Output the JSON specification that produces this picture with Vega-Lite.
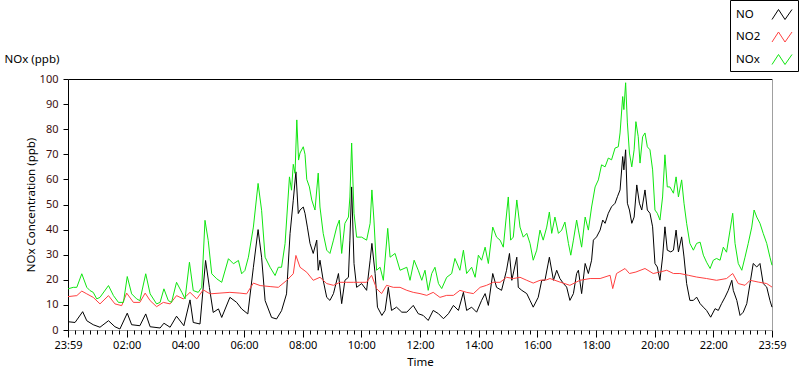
{
  "$schema": "https://vega.github.io/schema/vega-lite/v6.json",
  "width": 704,
  "height": 251,
  "autosize": {"type": "none"},
  "padding": {"left": 68, "top": 79, "right": 28, "bottom": 39},
  "background": "white",
  "config": {
    "view": {"stroke": null},
    "font": "Noto Sans",
    "axis": {"grid": false, "labelFont": "Noto Sans", "titleFont": "Noto Sans", "titleFontWeight": "normal"},
    "legend": {"labelFont": "Noto Sans"}
  },
  "datasets": {
    "no": [
      {"t":0,"v":3.3},{"t":0.24,"v":3},{"t":0.5,"v":7.3},{"t":0.64,"v":3.7},{"t":0.86,"v":2.1},{"t":1.09,"v":1.1},{"t":1.38,"v":3.7},{"t":1.6,"v":1.3},{"t":1.77,"v":0.4},{"t":2.02,"v":6.7},{"t":2.17,"v":2.1},{"t":2.45,"v":1.7},{"t":2.65,"v":6.4},{"t":2.8,"v":1.3},{"t":3.14,"v":0.8},{"t":3.27,"v":2.7},{"t":3.48,"v":1.1},{"t":3.7,"v":5.5},{"t":3.95,"v":1.7},{"t":4.16,"v":12},{"t":4.27,"v":3},{"t":4.5,"v":2.4},{"t":4.69,"v":27.7},{"t":4.82,"v":17},{"t":4.95,"v":7},{"t":5.13,"v":8.4},{"t":5.24,"v":5},{"t":5.52,"v":13},{"t":5.75,"v":11},{"t":5.92,"v":8.4},{"t":6.13,"v":6.4},{"t":6.32,"v":25},{"t":6.48,"v":40},{"t":6.6,"v":29},{"t":6.72,"v":11.7},{"t":6.94,"v":5},{"t":7.11,"v":4.4},{"t":7.28,"v":7.7},{"t":7.45,"v":14.4},{"t":7.57,"v":38.4},{"t":7.68,"v":51.7},{"t":7.77,"v":63},{"t":7.85,"v":46.4},{"t":7.91,"v":47.8},{"t":8.02,"v":49},{"t":8.08,"v":46.5},{"t":8.16,"v":41},{"t":8.25,"v":34.5},{"t":8.36,"v":30.5},{"t":8.48,"v":35.8},{"t":8.53,"v":23.8},{"t":8.59,"v":27.8},{"t":8.7,"v":19.8},{"t":8.82,"v":13},{"t":8.93,"v":11.8},{"t":9.05,"v":14.5},{"t":9.22,"v":22.5},{"t":9.33,"v":10.5},{"t":9.44,"v":19.8},{"t":9.56,"v":21},{"t":9.61,"v":35.8},{"t":9.67,"v":57},{"t":9.75,"v":26.5},{"t":9.84,"v":17},{"t":10.01,"v":18.5},{"t":10.18,"v":15.8},{"t":10.3,"v":27.8},{"t":10.36,"v":34.5},{"t":10.47,"v":22.5},{"t":10.55,"v":9.1},{"t":10.7,"v":5.8},{"t":10.81,"v":7.8},{"t":10.92,"v":17},{"t":11.03,"v":7.8},{"t":11.2,"v":9.1},{"t":11.38,"v":7.1},{"t":11.55,"v":7.1},{"t":11.77,"v":9.8},{"t":11.94,"v":6.5},{"t":12.11,"v":5.8},{"t":12.28,"v":3.8},{"t":12.45,"v":7.8},{"t":12.63,"v":6.5},{"t":12.8,"v":4.5},{"t":12.97,"v":6.5},{"t":13.14,"v":9.8},{"t":13.31,"v":7.8},{"t":13.48,"v":15},{"t":13.59,"v":7.8},{"t":13.76,"v":9.1},{"t":13.93,"v":7.1},{"t":14.1,"v":11.8},{"t":14.22,"v":14.5},{"t":14.33,"v":9.8},{"t":14.48,"v":22.5},{"t":14.61,"v":17},{"t":14.78,"v":15.8},{"t":14.95,"v":23.8},{"t":15.05,"v":30.5},{"t":15.13,"v":19.8},{"t":15.3,"v":29},{"t":15.35,"v":17},{"t":15.47,"v":15.8},{"t":15.64,"v":14.5},{"t":15.75,"v":11.8},{"t":15.86,"v":9.1},{"t":16.03,"v":13},{"t":16.15,"v":19.8},{"t":16.26,"v":19.8},{"t":16.41,"v":29},{"t":16.55,"v":19.8},{"t":16.66,"v":23.8},{"t":16.77,"v":20.5},{"t":16.89,"v":18.5},{"t":17.0,"v":17.1},{"t":17.11,"v":11.8},{"t":17.23,"v":14.5},{"t":17.34,"v":22.5},{"t":17.4,"v":23.8},{"t":17.51,"v":14.5},{"t":17.63,"v":26.5},{"t":17.74,"v":22.5},{"t":17.85,"v":27.8},{"t":17.91,"v":35.8},{"t":18.02,"v":37.1},{"t":18.14,"v":39.8},{"t":18.23,"v":43.8},{"t":18.31,"v":42.5},{"t":18.42,"v":46.5},{"t":18.53,"v":49.1},{"t":18.65,"v":50.5},{"t":18.73,"v":53.1},{"t":18.82,"v":55.8},{"t":18.91,"v":69.1},{"t":18.95,"v":63.8},{"t":19.01,"v":71.8},{"t":19.07,"v":50.5},{"t":19.14,"v":47.8},{"t":19.22,"v":42.5},{"t":19.3,"v":45},{"t":19.39,"v":57.8},{"t":19.48,"v":50.5},{"t":19.56,"v":47.8},{"t":19.67,"v":55.8},{"t":19.75,"v":47.8},{"t":19.84,"v":46.5},{"t":19.93,"v":41.1},{"t":20.01,"v":26.5},{"t":20.09,"v":25.1},{"t":20.18,"v":19.8},{"t":20.27,"v":29.1},{"t":20.35,"v":41.1},{"t":20.43,"v":31.8},{"t":20.55,"v":31.1},{"t":20.64,"v":31.8},{"t":20.73,"v":39.8},{"t":20.81,"v":31.1},{"t":20.92,"v":37.1},{"t":21.0,"v":29.1},{"t":21.09,"v":18.5},{"t":21.2,"v":11.8},{"t":21.32,"v":11.8},{"t":21.43,"v":13.1},{"t":21.55,"v":10.5},{"t":21.66,"v":9.1},{"t":21.77,"v":7.8},{"t":21.91,"v":5.1},{"t":22.06,"v":8.5},{"t":22.17,"v":7.8},{"t":22.28,"v":10.5},{"t":22.4,"v":13.1},{"t":22.51,"v":15.8},{"t":22.63,"v":19.8},{"t":22.68,"v":15.8},{"t":22.8,"v":11.8},{"t":22.91,"v":5.8},{"t":23.02,"v":7.1},{"t":23.14,"v":10.5},{"t":23.25,"v":18.5},{"t":23.36,"v":26.5},{"t":23.48,"v":25.1},{"t":23.59,"v":26.5},{"t":23.7,"v":18.5},{"t":23.82,"v":17.1},{"t":23.93,"v":11.8},{"t":24.0,"v":9.1}
    ],
    "no2": [
      {"t":0,"v":13.3},{"t":0.3,"v":13.7},{"t":0.47,"v":15.5},{"t":0.64,"v":14.4},{"t":0.86,"v":13},{"t":1.09,"v":10.4},{"t":1.38,"v":13.7},{"t":1.6,"v":10.4},{"t":1.83,"v":9.7},{"t":2.0,"v":14.7},{"t":2.23,"v":11},{"t":2.45,"v":11},{"t":2.63,"v":14.7},{"t":2.8,"v":11.7},{"t":3.02,"v":9.3},{"t":3.25,"v":11},{"t":3.48,"v":10.4},{"t":3.7,"v":13.7},{"t":3.93,"v":12.4},{"t":4.16,"v":15},{"t":4.39,"v":12.4},{"t":4.61,"v":16},{"t":4.84,"v":14.4},{"t":5.18,"v":14.7},{"t":5.52,"v":15},{"t":5.86,"v":14.7},{"t":6.09,"v":14.4},{"t":6.32,"v":18.7},{"t":6.55,"v":17.7},{"t":6.89,"v":17.3},{"t":7.17,"v":17},{"t":7.45,"v":19.7},{"t":7.68,"v":22.4},{"t":7.77,"v":29.7},{"t":7.91,"v":25},{"t":8.14,"v":23},{"t":8.36,"v":19.8},{"t":8.59,"v":21},{"t":8.82,"v":18.5},{"t":9.05,"v":17.8},{"t":9.27,"v":19},{"t":9.5,"v":19},{"t":9.73,"v":19},{"t":9.95,"v":19},{"t":10.18,"v":19},{"t":10.35,"v":21.8},{"t":10.52,"v":16.5},{"t":10.69,"v":14.5},{"t":10.86,"v":17.8},{"t":11.09,"v":17},{"t":11.32,"v":17},{"t":11.55,"v":15.8},{"t":11.77,"v":15},{"t":12.0,"v":14.5},{"t":12.23,"v":13.8},{"t":12.45,"v":15},{"t":12.68,"v":13},{"t":12.91,"v":13.8},{"t":13.14,"v":13.8},{"t":13.36,"v":15.8},{"t":13.59,"v":15},{"t":13.82,"v":14.5},{"t":14.05,"v":17},{"t":14.27,"v":17.8},{"t":14.5,"v":19},{"t":14.73,"v":19},{"t":14.95,"v":21},{"t":15.18,"v":20.5},{"t":15.41,"v":21},{"t":15.64,"v":19.8},{"t":15.86,"v":18.7},{"t":16.09,"v":19.8},{"t":16.32,"v":20},{"t":16.43,"v":20.5},{"t":16.77,"v":19.1},{"t":17.11,"v":17.8},{"t":17.45,"v":19.8},{"t":17.8,"v":20.5},{"t":18.14,"v":20.5},{"t":18.48,"v":21.8},{"t":18.57,"v":16.5},{"t":18.7,"v":22.5},{"t":18.99,"v":24.5},{"t":19.14,"v":22.5},{"t":19.36,"v":23.1},{"t":19.67,"v":24.5},{"t":19.95,"v":22.5},{"t":20.18,"v":23.1},{"t":20.41,"v":23.8},{"t":20.64,"v":22.5},{"t":20.86,"v":22.5},{"t":21.15,"v":21.8},{"t":21.43,"v":21.1},{"t":21.77,"v":20.5},{"t":22.11,"v":19.8},{"t":22.45,"v":20.5},{"t":22.66,"v":22.5},{"t":22.85,"v":18.5},{"t":23.08,"v":17.8},{"t":23.25,"v":19.8},{"t":23.53,"v":19.1},{"t":23.82,"v":18.5},{"t":24.0,"v":17.1}
    ],
    "nox": [
      {"t":0,"v":16.4},{"t":0.18,"v":17},{"t":0.3,"v":17},{"t":0.47,"v":22.4},{"t":0.64,"v":17},{"t":0.75,"v":15.7},{"t":0.86,"v":15},{"t":0.98,"v":12.4},{"t":1.09,"v":13},{"t":1.38,"v":17.7},{"t":1.55,"v":13.7},{"t":1.72,"v":11},{"t":1.89,"v":11},{"t":2.02,"v":21.3},{"t":2.17,"v":14.4},{"t":2.34,"v":12.4},{"t":2.45,"v":11.7},{"t":2.65,"v":22.4},{"t":2.8,"v":14.4},{"t":3.02,"v":10.4},{"t":3.14,"v":11},{"t":3.27,"v":16.4},{"t":3.42,"v":11.7},{"t":3.53,"v":11},{"t":3.7,"v":19},{"t":3.88,"v":15},{"t":3.99,"v":12.4},{"t":4.14,"v":27},{"t":4.27,"v":15.7},{"t":4.44,"v":15},{"t":4.56,"v":17},{"t":4.67,"v":43.7},{"t":4.78,"v":35.7},{"t":4.9,"v":22.4},{"t":5.07,"v":20.4},{"t":5.24,"v":19},{"t":5.47,"v":28.4},{"t":5.64,"v":26.4},{"t":5.81,"v":27.7},{"t":5.92,"v":22.4},{"t":6.03,"v":23.7},{"t":6.15,"v":29},{"t":6.32,"v":41},{"t":6.48,"v":58.4},{"t":6.6,"v":47.7},{"t":6.72,"v":29},{"t":6.89,"v":25},{"t":7.06,"v":21.7},{"t":7.17,"v":25},{"t":7.28,"v":25},{"t":7.4,"v":34.4},{"t":7.55,"v":61},{"t":7.62,"v":55.7},{"t":7.68,"v":66},{"t":7.74,"v":62.4},{"t":7.8,"v":83.7},{"t":7.86,"v":67.7},{"t":7.91,"v":70.5},{"t":8.02,"v":73},{"t":8.08,"v":70},{"t":8.14,"v":60},{"t":8.23,"v":57},{"t":8.31,"v":51.8},{"t":8.42,"v":47.8},{"t":8.53,"v":62.5},{"t":8.59,"v":49},{"t":8.7,"v":38.5},{"t":8.82,"v":31.8},{"t":8.93,"v":30.5},{"t":9.05,"v":35.8},{"t":9.16,"v":41},{"t":9.25,"v":43.8},{"t":9.33,"v":30.5},{"t":9.44,"v":42.5},{"t":9.56,"v":45},{"t":9.61,"v":53},{"t":9.67,"v":74.5},{"t":9.75,"v":46.5},{"t":9.84,"v":37},{"t":10.01,"v":37},{"t":10.18,"v":35.8},{"t":10.3,"v":42.5},{"t":10.36,"v":55.8},{"t":10.43,"v":43.8},{"t":10.52,"v":23.8},{"t":10.64,"v":25},{"t":10.75,"v":19.8},{"t":10.9,"v":40.5},{"t":10.98,"v":29},{"t":11.15,"v":30.5},{"t":11.32,"v":23.8},{"t":11.55,"v":25},{"t":11.66,"v":19.8},{"t":11.8,"v":27.8},{"t":11.94,"v":23.8},{"t":12.06,"v":19.8},{"t":12.17,"v":23.8},{"t":12.28,"v":15.8},{"t":12.4,"v":22.5},{"t":12.51,"v":25},{"t":12.63,"v":18.5},{"t":12.74,"v":16.5},{"t":12.91,"v":21},{"t":13.08,"v":22.5},{"t":13.19,"v":28.5},{"t":13.36,"v":23.8},{"t":13.48,"v":31.8},{"t":13.59,"v":22.5},{"t":13.76,"v":25},{"t":13.88,"v":21},{"t":13.99,"v":29.8},{"t":14.1,"v":27.8},{"t":14.22,"v":33},{"t":14.33,"v":26.5},{"t":14.48,"v":41},{"t":14.61,"v":37},{"t":14.73,"v":35.8},{"t":14.84,"v":33},{"t":14.93,"v":43.8},{"t":15.01,"v":53},{"t":15.09,"v":35.8},{"t":15.18,"v":37},{"t":15.3,"v":51.8},{"t":15.41,"v":41},{"t":15.52,"v":37},{"t":15.64,"v":38.5},{"t":15.75,"v":34.5},{"t":15.86,"v":27.8},{"t":15.98,"v":31.8},{"t":16.09,"v":39.8},{"t":16.2,"v":35.8},{"t":16.32,"v":41},{"t":16.41,"v":47},{"t":16.49,"v":38.5},{"t":16.6,"v":45},{"t":16.72,"v":38.5},{"t":16.83,"v":39.8},{"t":16.94,"v":43},{"t":17.06,"v":34.5},{"t":17.14,"v":29.8},{"t":17.23,"v":35.8},{"t":17.34,"v":43.8},{"t":17.4,"v":39.8},{"t":17.51,"v":33},{"t":17.63,"v":45},{"t":17.74,"v":39.8},{"t":17.85,"v":49},{"t":17.97,"v":57},{"t":18.08,"v":59.8},{"t":18.19,"v":65.8},{"t":18.31,"v":65},{"t":18.42,"v":68.5},{"t":18.53,"v":67.8},{"t":18.65,"v":72.5},{"t":18.76,"v":73},{"t":18.82,"v":78.5},{"t":18.91,"v":93},{"t":18.95,"v":87.8},{"t":19.01,"v":98.5},{"t":19.07,"v":82.5},{"t":19.14,"v":70.5},{"t":19.22,"v":65},{"t":19.3,"v":71.8},{"t":19.36,"v":83},{"t":19.44,"v":77},{"t":19.5,"v":66.5},{"t":19.59,"v":77},{"t":19.67,"v":78.5},{"t":19.75,"v":73},{"t":19.84,"v":71.8},{"t":19.93,"v":63.8},{"t":20.01,"v":47.8},{"t":20.09,"v":46.5},{"t":20.18,"v":43.8},{"t":20.27,"v":53},{"t":20.35,"v":69.8},{"t":20.43,"v":57},{"t":20.52,"v":57},{"t":20.64,"v":54.5},{"t":20.73,"v":61},{"t":20.81,"v":53},{"t":20.92,"v":59.8},{"t":21.0,"v":50.5},{"t":21.09,"v":42.5},{"t":21.2,"v":34.5},{"t":21.32,"v":31.8},{"t":21.43,"v":34.5},{"t":21.55,"v":35},{"t":21.66,"v":29.8},{"t":21.77,"v":27},{"t":21.89,"v":24.5},{"t":22.0,"v":27.8},{"t":22.11,"v":28.5},{"t":22.23,"v":27.8},{"t":22.34,"v":33},{"t":22.45,"v":31},{"t":22.57,"v":39.8},{"t":22.66,"v":46.5},{"t":22.74,"v":34.5},{"t":22.85,"v":26.5},{"t":22.97,"v":23.8},{"t":23.08,"v":29},{"t":23.19,"v":34.5},{"t":23.31,"v":41},{"t":23.39,"v":47.8},{"t":23.48,"v":45},{"t":23.59,"v":42.5},{"t":23.7,"v":38.5},{"t":23.82,"v":34.5},{"t":23.93,"v":29},{"t":24.0,"v":25.8}
    ]
  },
  "layer": [
    {
      "data": {"name": "no"},
      "mark": {"type": "line", "strokeWidth": 1},
      "encoding": {
        "x": {
          "field": "t", "type": "quantitative",
          "scale": {"domain": [0, 24], "nice": false, "zero": false},
          "axis": {
            "orient": "bottom",
            "values": [0, 2, 4, 6, 8, 10, 12, 14, 16, 18, 20, 22, 24],
            "labelExpr": "datum.value == 0 || datum.value == 24 ? '23:59' : (datum.value < 10 ? '0' : '') + datum.value + ':00'",
            "tickSize": 7, "tickColor": "#000000",
            "domainColor": "#a0a0a0",
            "labelFontSize": 11, "labelColor": "#000000", "labelPadding": 2.5,
            "labelFlush": false, "labelOverlap": false,
            "title": "Time", "titleFontSize": 11.5, "titleColor": "#000000",
            "titleX": 352, "titleY": 35, "titleAlign": "center", "titleBaseline": "alphabetic"
          }
        },
        "y": {
          "field": "v", "type": "quantitative",
          "scale": {"domain": [0, 100], "nice": false},
          "axis": {
            "orient": "left",
            "values": [0, 10, 20, 30, 40, 50, 60, 70, 80, 90, 100],
            "tickSize": 5, "tickColor": "#000000", "domainColor": "#000000",
            "labelFontSize": 11, "labelColor": "#3d0f0f", "labelPadding": 5,
            "title": "NOx Concentration (ppb)", "titleFontSize": 11.5, "titleColor": "#000000",
            "titleAngle": 270, "titleAlign": "center", "titleBaseline": "alphabetic",
            "titleX": -34, "titleY": 125.5
          }
        },
        "color": {
          "datum": "NO", "type": "nominal",
          "scale": {"domain": ["NO", "NO2", "NOx"], "range": ["#000000", "#ff4040", "#10e610"]},
          "legend": {
            "orient": "none", "legendX": 662, "legendY": -79,
            "title": null, "strokeColor": "#000000", "fillColor": "#ffffff", "padding": 4,
            "symbolType": "M-1,0.5L-0.35,-0.5L0.3,0.5L1,-0.5",
            "symbolSize": 400, "symbolStrokeWidth": 1, "symbolFillColor": "transparent",
            "symbolOffset": 37.5, "labelOffset": -56.5, "labelAlign": "left",
            "labelFontSize": 11.5, "labelColor": "#000000", "rowPadding": 4.5
          }
        }
      }
    },
    {
      "data": {"name": "no2"},
      "mark": {"type": "line", "strokeWidth": 1},
      "encoding": {
        "x": {
          "field": "t", "type": "quantitative",
          "axis": {
            "orient": "bottom",
            "values": [0,0.25,0.5,0.75,1,1.25,1.5,1.75,2,2.25,2.5,2.75,3,3.25,3.5,3.75,4,4.25,4.5,4.75,5,5.25,5.5,5.75,6,6.25,6.5,6.75,7,7.25,7.5,7.75,8,8.25,8.5,8.75,9,9.25,9.5,9.75,10,10.25,10.5,10.75,11,11.25,11.5,11.75,12,12.25,12.5,12.75,13,13.25,13.5,13.75,14,14.25,14.5,14.75,15,15.25,15.5,15.75,16,16.25,16.5,16.75,17,17.25,17.5,17.75,18,18.25,18.5,18.75,19,19.25,19.5,19.75,20,20.25,20.5,20.75,21,21.25,21.5,21.75,22,22.25,22.5,22.75,23,23.25,23.5,23.75,24],
            "tickSize": 4, "tickColor": "#000000",
            "labels": false, "domain": false, "title": null
          }
        },
        "y": {
          "field": "v", "type": "quantitative",
          "axis": {"orient": "right", "domainColor": "#a0a0a0", "ticks": false, "labels": false, "title": null}
        },
        "color": {"datum": "NO2", "type": "nominal"}
      }
    },
    {
      "data": {"name": "nox"},
      "mark": {"type": "line", "strokeWidth": 1},
      "encoding": {
        "x": {
          "field": "t", "type": "quantitative",
          "axis": {
            "orient": "top", "domainColor": "#000000", "ticks": false, "labels": false,
            "title": "NOx (ppb)", "titleFontSize": 11.5, "titleColor": "#000000",
            "titleX": -64, "titleY": -17, "titleAlign": "left", "titleBaseline": "alphabetic"
          }
        },
        "y": {"field": "v", "type": "quantitative", "axis": null},
        "color": {"datum": "NOx", "type": "nominal"}
      }
    }
  ],
  "resolve": {"axis": {"x": "independent", "y": "independent"}}
}
